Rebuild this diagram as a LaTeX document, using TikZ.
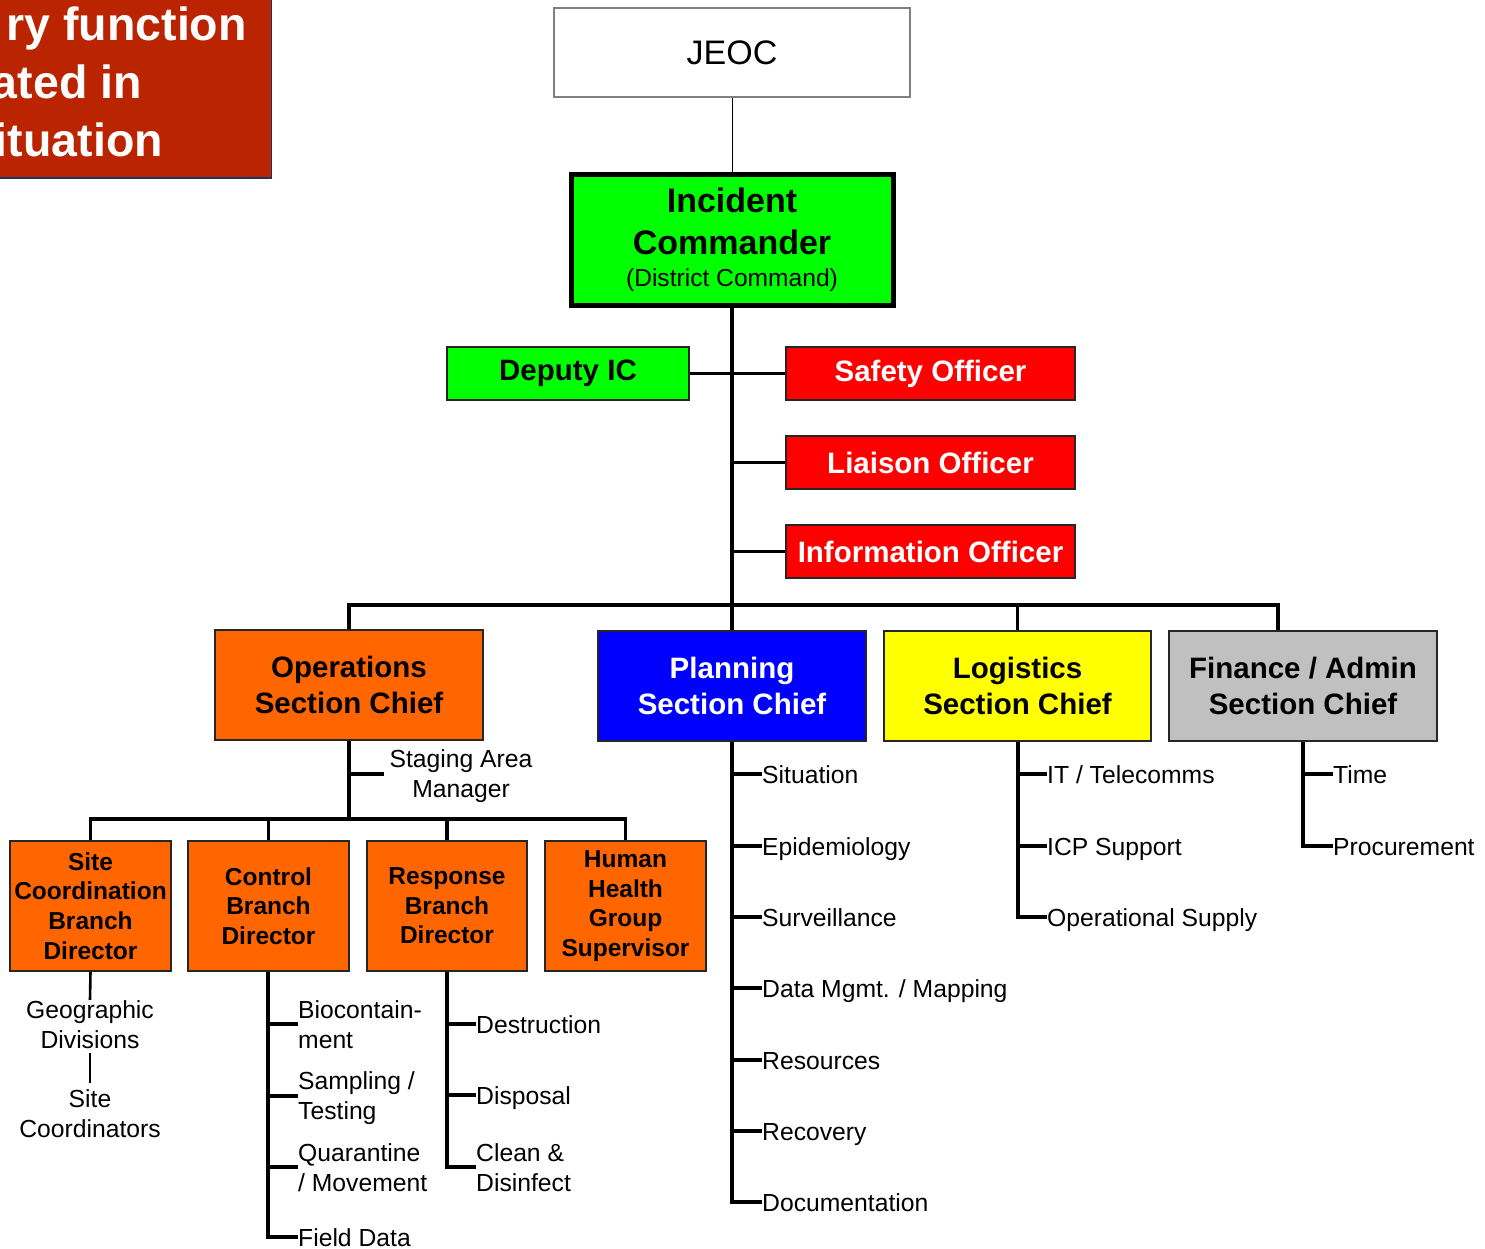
\documentclass[tikz,border=0pt]{standalone}
\usepackage{fontspec}
\setmainfont{Liberation Sans}
\definecolor{icgreen}{RGB}{0,255,0}
\definecolor{offred}{RGB}{255,0,0}
\definecolor{opsorange}{RGB}{255,102,0}
\definecolor{planblue}{RGB}{0,0,255}
\definecolor{logyellow}{RGB}{255,255,0}
\definecolor{fingray}{RGB}{192,192,192}
\definecolor{bannerred}{RGB}{187,36,0}
\definecolor{bannernavy}{RGB}{28,52,96}
\definecolor{framegray}{RGB}{128,128,128}
\begin{document}
\begin{tikzpicture}[x=1pt,y=-1pt,
  box/.style={draw=black!85, line width=1.6pt, inner sep=0pt, align=center},
  headbox/.style={box, minimum width=268pt, minimum height=110pt,
    font=\fontsize{29.5}{36}\selectfont\bfseries},
  offbox/.style={box, minimum width=289pt, minimum height=53pt, fill=offred,
    text=white, font=\fontsize{29.5}{36}\selectfont\bfseries},
  subbox/.style={box, minimum width=161pt, minimum height=130pt, fill=opsorange,
    font=\fontsize{24.5}{29.6}\selectfont\bfseries},
  conn/.style={line width=3.2pt},
  leaf/.style={anchor=base west, inner sep=0pt, align=left,
    font=\fontsize{24.7}{30}\selectfont},
  cleaf/.style={anchor=base, inner sep=0pt, align=center,
    font=\fontsize{24.7}{30}\selectfont},
  bannertext/.style={anchor=base east, inner sep=0pt, text=white,
    font=\fontsize{46.5}{57}\selectfont\bfseries}]

\useasboundingbox (0,0) rectangle (1485,1249);

% banner in the top left corner
\node[fill=bannerred, draw=bannernavy, line width=1.5pt, inner sep=0pt,
  minimum width=300pt, minimum height=200pt, anchor=south east] (banner) at (272,179) {};
\node[bannertext] (bl1) at (247,41) {ry function};
\node[bannertext] (bl2) at (142,99) {ated in};
\node[bannertext] (bl3) at (163,157) {ituation};

% command level
\node[box, draw=framegray, line width=1.2pt, minimum width=356pt, minimum height=89pt,
  font=\fontsize{34}{40}\selectfont] (jeoc) at (732,52.5) {JEOC};
\node[box, draw=black, line width=5pt, fill=icgreen, minimum width=322pt, minimum height=130pt,
  font=\fontsize{34}{32}\selectfont\bfseries] (ic) at (732,240)
  {Incident\\[10pt]Commander\\\mdseries\fontsize{24.6}{32}\selectfont(District Command)};

\node[box, fill=icgreen, minimum width=242pt, minimum height=53pt,
  font=\fontsize{29.5}{36}\selectfont\bfseries] (dep) at (568,373.5) {Deputy IC};
\node[offbox] (saf) at (930.5,373.5) {Safety Officer};
\node[offbox] (lia) at (930.5,462.5) {Liaison Officer};
\node[offbox] (inf) at (930.5,551.5) {Information Officer};

% section chiefs
\node[headbox, fill=opsorange] (ops) at (349,685) {Operations\\Section Chief};
\node[headbox, fill=planblue, text=white] (plan) at (732,686) {Planning\\Section Chief};
\node[headbox, fill=logyellow, minimum width=267pt] (log) at (1017.5,686) {Logistics\\Section Chief};
\node[headbox, fill=fingray] (fin) at (1303,686) {Finance / Admin\\Section Chief};

% operations branches
\node[subbox] (site) at (90.5,906) {Site\\Coordination\\Branch\\Director};
\node[subbox] (ctl) at (268.5,906) {Control\\Branch\\Director};
\node[subbox, minimum width=160pt] (rsp) at (447,906) {Response\\Branch\\Director};
\node[subbox] (hum) at (625.5,906) {Human\\Health\\Group\\Supervisor};

% connectors of the command level
\draw[line width=1pt] (jeoc.south) -- (ic.north);
\draw[conn] (ic.south) -- (plan.north);
\draw[conn] (dep.east) -- (saf.west);
\draw[conn] (lia.west) -- (lia.west -| ic.south);
\draw[conn] (inf.west) -- (inf.west -| ic.south);

% bus to the sections
\coordinate (busL) at (349,605);
\coordinate (busR) at (1278,605);
\draw[conn] (ops.north) -- (busL) -- (busR) -- (busR |- fin.north);
\draw[conn] (log.north) -- (log.north |- busL);

% operations: staging area and branches
\coordinate (stg) at (349,774);
\coordinate (obus) at (349,819);
\node[cleaf] (stage) at (461,797) {Staging Area\\Manager};
\draw[conn] (ops.south) -- (obus);
\draw[conn, shorten >=5pt] (stg) -- (stg -| stage.west);
\draw[conn] (site.north) -- (site.north |- obus) -- (hum.north |- obus) -- (hum.north);
\draw[conn] (ctl.north) -- (ctl.north |- obus);
\draw[conn] (rsp.north) -- (rsp.north |- obus);

% site coordination
\node[cleaf] (geo) at (90,1048) {Geographic\\Divisions};
\node[cleaf] (sitec) at (90,1137) {Site\\Coordinators};
\draw[line width=2.6pt] (site.south) -- (geo.north);
\draw[line width=2.6pt, shorten <=5pt, shorten >=6pt] (geo.south) -- (sitec.north);

% control branch
\node[leaf] (bio) at (298,1048) {Biocontain-\\ment};
\node[leaf] (samp) at (298,1119) {Sampling /\\Testing};
\node[leaf] (quar) at (298,1191) {Quarantine\\/ Movement};
\node[leaf] (fdat) at (298,1246) {Field Data};
\coordinate (ct1) at (268,1024);
\coordinate (ct2) at (268,1096);
\coordinate (ct3) at (268,1167);
\coordinate (ct4) at (268,1237);
\draw[conn] (ctl.south -| ct1) -- (ct4) -- (ct4 -| fdat.west);
\draw[conn] (ct1) -- (ct1 -| bio.west);
\draw[conn] (ct2) -- (ct2 -| samp.west);
\draw[conn] (ct3) -- (ct3 -| quar.west);

% response branch
\node[leaf] (dest) at (476,1033) {Destruction};
\node[leaf] (disp) at (476,1104) {Disposal};
\node[leaf] (clean) at (476,1191) {Clean \&\\Disinfect};
\coordinate (rt1) at (447,1024);
\coordinate (rt2) at (447,1095);
\coordinate (rt3) at (447,1167);
\draw[conn] (rsp.south) -- (rt3) -- (rt3 -| clean.west);
\draw[conn] (rt1) -- (rt1 -| dest.west);
\draw[conn] (rt2) -- (rt2 -| disp.west);

% planning section
\node[leaf] (p1) at (762,783) {Situation};
\node[leaf] (p2) at (762,855) {Epidemiology};
\node[leaf] (p3) at (762,926) {Surveillance};
\node[leaf] (p4) at (762,997) {Data Mgmt. / Mapping};
\node[leaf] (p5) at (762,1069) {Resources};
\node[leaf] (p6) at (762,1140) {Recovery};
\node[leaf] (p7) at (762,1211) {Documentation};
\coordinate (pt1) at (732,774);
\coordinate (pt2) at (732,846);
\coordinate (pt3) at (732,917);
\coordinate (pt4) at (732,988);
\coordinate (pt5) at (732,1060);
\coordinate (pt6) at (732,1131);
\coordinate (pt7) at (732,1202);
\draw[conn] (plan.south) -- (pt7) -- (pt7 -| p7.west);
\foreach \i in {1,...,6} \draw[conn] (pt\i) -- (pt\i -| p\i.west);

% logistics section
\node[leaf] (g1) at (1047,783) {IT / Telecomms};
\node[leaf] (g2) at (1047,855) {ICP Support};
\node[leaf] (g3) at (1047,926) {Operational Supply};
\coordinate (gt1) at (1018,774);
\coordinate (gt2) at (1018,846);
\coordinate (gt3) at (1018,917);
\draw[conn] (log.south -| gt1) -- (gt3) -- (gt3 -| g3.west);
\draw[conn] (gt1) -- (gt1 -| g1.west);
\draw[conn] (gt2) -- (gt2 -| g2.west);

% finance section
\node[leaf] (f1) at (1333,783) {Time};
\node[leaf] (f2) at (1333,855) {Procurement};
\coordinate (ft1) at (1303,774);
\coordinate (ft2) at (1303,846);
\draw[conn] (fin.south) -- (ft2) -- (ft2 -| f2.west);
\draw[conn] (ft1) -- (ft1 -| f1.west);

\end{tikzpicture}
\end{document}
